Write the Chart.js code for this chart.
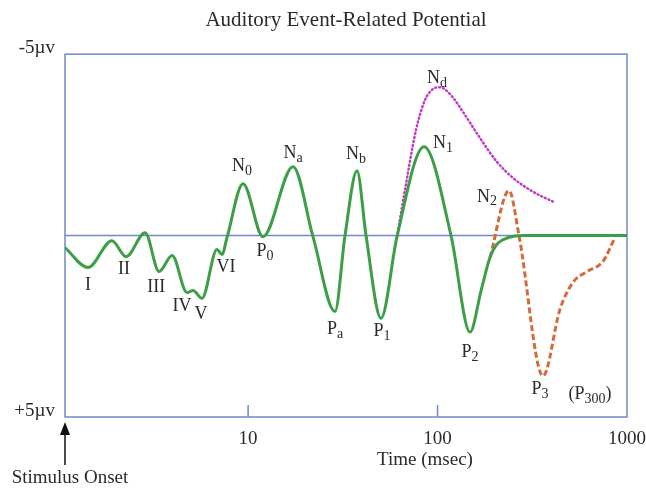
<!DOCTYPE html>
<html>
<head>
<meta charset="utf-8">
<script src="https://cdn.jsdelivr.net/npm/chart.js@4.4.0/dist/chart.umd.min.js"></script>
<style>
  html, body { margin: 0; padding: 0; background: #fff; }
  #wrap { width: 646px; height: 488px; }
</style>
</head>
<body>
<div id="wrap"><canvas id="myChart" width="646" height="488"></canvas></div>
<script>
  /* DATA (time in msec, amplitude in microvolts, negative up) */

  const greenTime = [1.08, 1.43, 1.91, 2.27, 2.86, 3.39, 3.97, 4.76, 5.12, 5.71, 6.85, 7.28, 7.74, 9.40, 11.98,
    17.26, 22.0, 28.75, 32.47, 37.57, 41.92, 50.29, 61.08, 84.84, 117.8, 148.4, 170, 189.2, 205, 235, 290, 443, 1000];
  const greenAmp = [0.33, 0.88, 0.14, 0.58, -0.08, 0.99, 0.55, 1.57, 1.51, 1.73, 0.38, 0.52, 0.05, -1.43, 0.03,
    -1.90, 0.03, 2.09, 0, -1.79, 0, 2.28, 0.03, -2.45, 0, 2.66, 1.5, 0.60, 0.25, 0.06, 0, 0, 0];

  const ndTime = [61.08, 67.32, 76.94, 85.87, 94.62, 103.0, 116.4, 136.2, 167.5, 206.0, 250.2, 319.0, 416.9];
  const ndAmp = [0.03, -1.26, -2.91, -3.74, -4.04, -4.09, -3.90, -3.41, -2.69, -2.03, -1.59, -1.21, -0.91];

  const p3Time = [189.2, 238.4, 269.1, 360.3, 443, 518.8, 615, 747, 864.6];
  const p3Amp = [0.60, -1.24, 0.0, 3.87, 2.03, 1.29, 0.99, 0.71, 0.05];

  const xTicks = [10, 100, 1000];
  const yTicks = [-5, 0, 5];
  const yTickText = {'-5': '-5\u00b5v', '0': '', '5': '+5\u00b5v'};

  const peakMain = ['I', 'II', 'III', 'IV', 'V', 'VI', 'N', 'P', 'N', 'N', 'P', 'P', 'N', 'N', 'N', 'P', 'P', '(P'];
  const peakSub  = ['', '', '', '', '', '', '0', '0', 'a', 'b', 'a', '1', '1', 'd', '2', '2', '3', '300'];
  const peakTail = ['', '', '', '', '', '', '', '', '', '', '', '', '', '', '', '', '', ')'];
  const peakTime = [1.43, 2.21, 3.27, 4.48, 5.64, 7.64, 9.28, 12.28, 17.26, 37.12, 28.75, 50.91, 106.9, 99.3, 182.4, 148.4, 347.4, 637.7];
  const peakAmp  = [1.37, 0.93, 1.43, 1.95, 2.17, 0.88, -1.90, 0.44, -2.28, -2.23, 2.58, 2.64, -2.55, -4.34, -1.07, 3.21, 4.23, 4.37];

  const frameColor = '#7488c8';
  const textColor = '#2a2a2a';
  const serif = "'Liberation Serif', 'DejaVu Serif', serif";

  /* HELPERS */

  function toPoints(xs, ys) {
    return xs.map((v, i) => ({x: v, y: ys[i]}));
  }

  // frame, zero line and inner tick marks (under the curves)
  const frame = {
    id: 'frame',
    beforeDatasetsDraw(chart) {
      const {ctx, chartArea: a, scales: {x, y}} = chart;
      ctx.save();
      ctx.strokeStyle = frameColor;
      ctx.lineWidth = 1.5;
      ctx.strokeRect(a.left, a.top, a.right - a.left, a.bottom - a.top);
      const y0 = y.getPixelForValue(0);
      ctx.beginPath();
      ctx.moveTo(a.left, y0);
      ctx.lineTo(a.right, y0);
      [10, 100].forEach(v => {
        const px = x.getPixelForValue(v);
        ctx.moveTo(px, a.bottom);
        ctx.lineTo(px, a.bottom - 12);
      });
      ctx.stroke();
      ctx.restore();
    },
    afterDatasetsDraw(chart) {
      const {ctx, chartArea: a, scales: {x, y}} = chart;
      ctx.save();
      ctx.fillStyle = textColor;
      ctx.textBaseline = 'middle';
      ctx.textAlign = 'left';
      // peak labels with subscripts
      for (let i = 0; i < peakMain.length; i++) {
        const px = x.getPixelForValue(peakTime[i]);
        const py = y.getPixelForValue(peakAmp[i]);
        ctx.font = '18px ' + serif;
        const wMain = ctx.measureText(peakMain[i]).width;
        const wTail = ctx.measureText(peakTail[i]).width;
        ctx.font = '14px ' + serif;
        const wSub = ctx.measureText(peakSub[i]).width;
        let start = px - (wMain + wSub + wTail) / 2;
        ctx.font = '18px ' + serif;
        ctx.fillText(peakMain[i], start, py);
        ctx.font = '14px ' + serif;
        ctx.fillText(peakSub[i], start + wMain, py + 5);
        ctx.font = '18px ' + serif;
        ctx.fillText(peakTail[i], start + wMain + wSub, py);
      }
      // axis title and stimulus onset marker
      ctx.textAlign = 'center';
      ctx.font = '19px ' + serif;
      ctx.fillText('Time (msec)', 425, 460);
      ctx.fillText('Stimulus Onset', 70, 478);
      ctx.strokeStyle = '#111';
      ctx.fillStyle = '#111';
      ctx.lineWidth = 1.5;
      ctx.beginPath();
      ctx.moveTo(a.left, 432);
      ctx.lineTo(a.left, 465);
      ctx.stroke();
      ctx.beginPath();
      ctx.moveTo(a.left, 422);
      ctx.lineTo(a.left - 5, 435);
      ctx.lineTo(a.left + 5, 435);
      ctx.closePath();
      ctx.fill();
      ctx.restore();
    }
  };

  /* CHART */

  function initChart(target) {
    return new Chart(target, {
      type: 'scatter',
      data: {
        datasets: [
          {
            data: toPoints(greenTime, greenAmp),
            showLine: true,
            borderColor: '#3c9f48',
            borderWidth: 3,
            pointRadius: 0,
            cubicInterpolationMode: 'monotone'
          },
          {
            data: toPoints(ndTime, ndAmp),
            showLine: true,
            borderColor: '#c23ac8',
            borderWidth: 2.5,
            borderDash: [1, 3],
            borderCapStyle: 'round',
            pointRadius: 0,
            cubicInterpolationMode: 'monotone'
          },
          {
            data: toPoints(p3Time, p3Amp),
            showLine: true,
            borderColor: '#d46a3a',
            borderWidth: 3,
            borderDash: [6, 3],
            pointRadius: 0,
            cubicInterpolationMode: 'monotone'
          }
        ]
      },
      options: {
        responsive: false,
        animation: false,
        devicePixelRatio: 1,
        layout: { padding: { left: 0, right: 19, top: 0, bottom: 0 } },
        plugins: {
          legend: { display: false },
          tooltip: { enabled: false },
          title: {
            display: true,
            fullSize: false,
            text: 'Auditory Event-Related Potential',
            color: textColor,
            font: { family: serif, size: 21, weight: 'normal' },
            padding: { top: 8, bottom: 21 }
          }
        },
        scales: {
          x: {
            type: 'logarithmic',
            min: 1.08,
            max: 1000,
            grid: { display: false, drawTicks: false },
            border: { display: false },
            afterBuildTicks: (scale) => { scale.ticks = xTicks.map(v => ({value: v})); },
            afterFit: (scale) => {
              scale.height = 71;
              scale.paddingRight = 0;
              scale.paddingLeft = 0;
            },
            ticks: {
              autoSkip: false,
              maxRotation: 0,
              padding: 11,
              color: textColor,
              font: { family: serif, size: 19 },
              callback: (v) => String(v)
            }
          },
          y: {
            reverse: true,
            min: -5,
            max: 5,
            grid: { display: false, drawTicks: false },
            border: { display: false },
            afterBuildTicks: (scale) => { scale.ticks = yTicks.map(v => ({value: v})); },
            afterFit: (scale) => { scale.width = 65; },
            ticks: {
              padding: 10,
              labelOffset: -6,
              color: textColor,
              font: { family: serif, size: 19 },
              callback: (v) => yTickText[String(v)]
            }
          }
        }
      },
      plugins: [frame]
    });
  }

  document.addEventListener('DOMContentLoaded', () => {
    initChart(document.querySelector('#myChart'));
  });
</script>
</body>
</html>
